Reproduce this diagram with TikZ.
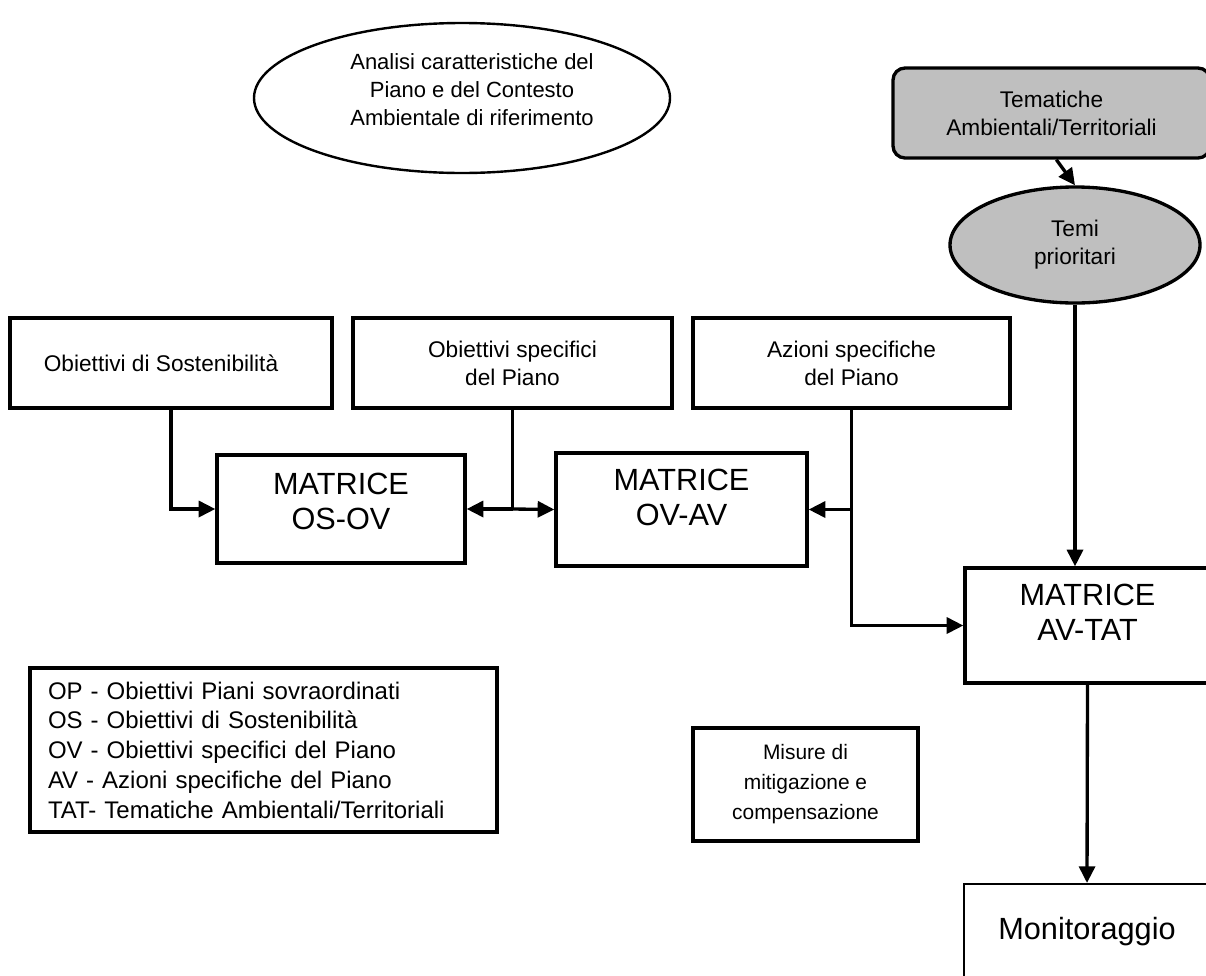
\documentclass[tikz,border=0pt]{standalone}
\usepackage{fontspec}
\setmainfont{Liberation Sans}
\usetikzlibrary{shapes.geometric,arrows.meta}
\begin{document}
\begin{tikzpicture}[x=0.75pt,y=-0.75pt,
  box/.style={draw,line width=2.5pt,rectangle,inner sep=0pt,align=center,
    font=\fontsize{17}{21}\selectfont},
  matbox/.style={box,font=\fontsize{23}{26}\selectfont},
  grey/.style={fill=black!25},
  arr/.style={line width=2.5pt,-{Triangle[length=12.5pt,width=12pt]}},
  link/.style={line width=2.5pt}]
\useasboundingbox (0,0) rectangle (1206,975);

% top
\node[draw,ellipse,line width=1.8pt,minimum width=312pt,minimum height=112.5pt] (analisi) at (462,98) {};
\node[align=center,font=\fontsize{16.5}{21}\selectfont] (analisitxt) at (472,90)
  {Analisi caratteristiche del\\Piano e del Contesto\\Ambientale di riferimento};
\node[box,grey,rounded corners=9pt,minimum width=237.75pt,minimum height=67.5pt] (tat) at (1051.5,113)
  {Tematiche\\Ambientali/Territoriali};
\node[draw,ellipse,grey,line width=2.5pt,inner sep=0pt,minimum width=187.5pt,minimum height=87pt,
  align=center,font=\fontsize{17}{21}\selectfont] (temi) at (1075,245) {Temi\\prioritari};

% inputs
\node[box,minimum width=241.5pt,minimum height=67.5pt] (os) at (171,363) {Obiettivi di Sostenibilità\hspace{15pt}};
\node[box,minimum width=239.25pt,minimum height=67.5pt] (ov) at (512.5,363) {Obiettivi specifici\\del Piano};
\node[box,minimum width=237.75pt,minimum height=67.5pt] (av) at (851.5,363) {Azioni specifiche\\del Piano};

% matrici
\node[matbox,minimum width=186pt,minimum height=81pt] (osov) at (341,509) {MATRICE\\OS-OV\\[-14pt]};
\node[matbox,minimum width=188.25pt,minimum height=84.75pt] (ovav) at (681.5,509.5) {MATRICE\\OV-AV\\[-8pt]};
\node[matbox,minimum width=183.75pt,minimum height=86.25pt] (avtat) at (1087.5,625.5) {MATRICE\\AV-TAT\\[-6pt]};
\node[matbox,line width=1.6pt,minimum width=184.5pt,minimum height=72pt] (monit) at (1087,932) {Monitoraggio};

% legenda e misure
\node[box,minimum width=350.25pt,minimum height=123pt,text width=323.25pt,inner xsep=13.5pt,
  align=left,font=\fontsize{18}{22.3}\selectfont] (leg) at (263.5,750)
  {OP - Obiettivi Piani sovraordinati\\OS - Obiettivi di Sostenibilità\\OV - Obiettivi specifici del Piano\\
   AV - Azioni specifiche del Piano\\TAT- Tematiche Ambientali/Territoriali};
\node[box,minimum width=168.75pt,minimum height=84.75pt,font=\fontsize{15.7}{22.5}\selectfont] (mis) at (805.5,784.5)
  {Misure di\\mitigazione e\\compensazione};

% collegamenti
\coordinate (jov) at (ov.south |- osov.west);
\coordinate (jav) at (av.south |- ovav.east);
\draw[arr] (os.south) |- (osov.west);
\draw[link] (ov.south) -- (jov);
\draw[arr] (jov) -- (osov.east);
\draw[arr] (jov) -- (ovav.west);
\draw[arr] (av.south) |- (avtat.west);
\draw[arr] (jav) -- (ovav.east);
\draw[arr] (tat.south west) ++(165,0) coordinate (t0) -- (temi.north);
\draw[arr] (temi.south) -- (temi.south |- avtat.north);
\draw[arr] (avtat.south) -- (monit.north);

\end{tikzpicture}
\end{document}
